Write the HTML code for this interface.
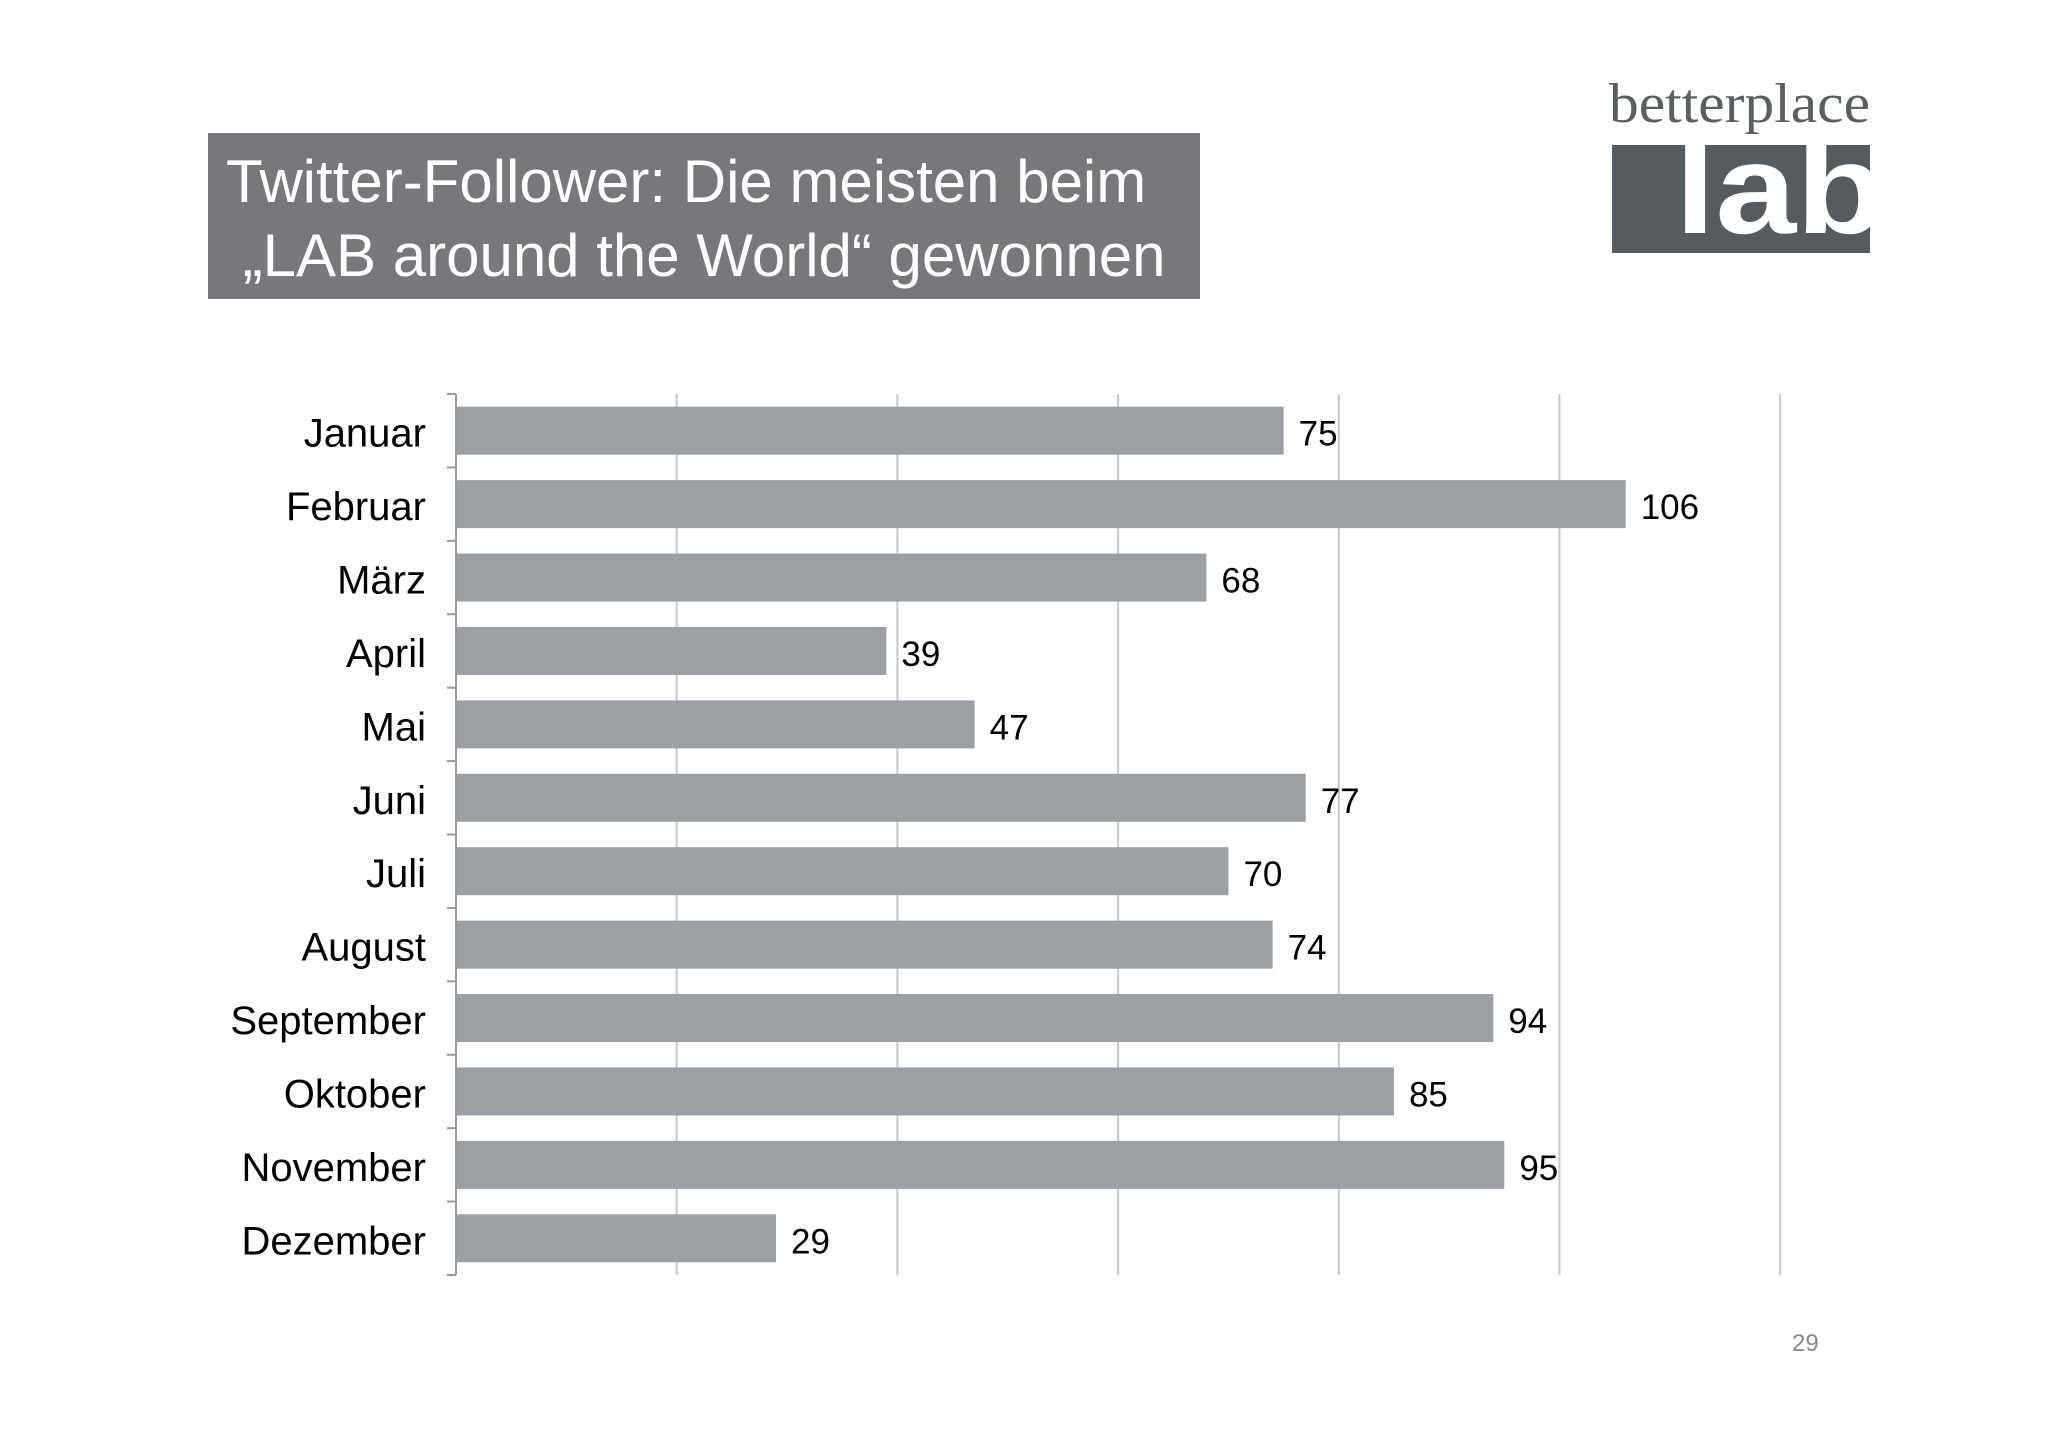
<!DOCTYPE html>
<html><head><meta charset="utf-8"><style>
html,body{margin:0;padding:0;background:#fff;}
body{width:2048px;height:1447px;position:relative;overflow:hidden;font-family:"Liberation Sans",Arial,sans-serif;}
</style></head><body>
<div style="position:absolute;left:208px;top:133px;width:992px;height:166px;background:#76787b;"></div>
<div style="position:absolute;left:226px;top:145px;color:#fff;font-size:60px;line-height:74px;white-space:nowrap;">Twitter-Follower: Die meisten beim<br>&nbsp;„LAB around the World“ gewonnen</div>
<svg style="position:absolute;left:0;top:0" width="2048" height="1447">
<text x="1609" y="122" font-family="Liberation Serif,serif" font-size="56" textLength="261" lengthAdjust="spacingAndGlyphs" fill="#5a5f62">betterplace</text>
<defs><clipPath id="lc"><rect x="1612" y="145" width="258" height="108"/></clipPath></defs>
<rect x="1612" y="145" width="258" height="108" fill="#555b5e"/>
<text clip-path="url(#lc)" x="1675" y="233" font-family="Liberation Sans,sans-serif" font-weight="bold" font-size="128" textLength="210" lengthAdjust="spacingAndGlyphs" fill="#fff">lab</text>
</svg>
<svg id="chart" style="position:absolute;left:0;top:0" width="2048" height="1447"></svg>
<div style="position:absolute;left:1792px;top:1330px;color:#888;font-size:24px;">29</div>
<script>
const categories=["Januar","Februar","März","April","Mai","Juni","Juli","August","September","Oktober","November","Dezember"];
const values=[75,106,68,39,47,77,70,74,94,85,95,29];
const gridTicks=[0,20,40,60,80,100,120];
const svg=document.getElementById('chart');
const NS='http://www.w3.org/2000/svg';
const x0=456,pxPerUnit=220.7/20,top0=394,bottom0=1275;
const band=(bottom0-top0)/categories.length;
function xs(v){return x0+v*pxPerUnit;}
function yb(i){return top0+i*band;}
function mk(t,a){const e=document.createElementNS(NS,t);for(const k in a)e.setAttribute(k,a[k]);svg.appendChild(e);return e;}
gridTicks.forEach(t=>{
 const l=mk('line',{x1:xs(t),x2:xs(t),y1:top0,y2:bottom0,stroke:t===0?'#999':'#c8c8c8','stroke-width':2});
 
 
});
for(let i=0;i<=categories.length;i++){
 const l=mk('line',{x1:x0-9,x2:x0,y1:yb(i),y2:yb(i),stroke:'#999','stroke-width':2});
 
 
}
categories.forEach((c,i)=>{
 const cy=yb(i)+band/2;
 const r=mk('rect',{x:x0+1,y:cy-24,width:xs(values[i])-x0-1,height:48,fill:'#9ca0a5'});
 
 
 const lt=mk('text',{x:426,y:cy+16,'text-anchor':'end','font-size':40,fill:'#000','font-family':'Liberation Sans,sans-serif'});
 lt.textContent=c;
 
 
 const vt=mk('text',{x:xs(values[i])+15,y:cy+15,'font-size':35,fill:'#000','font-family':'Liberation Sans,sans-serif'});
 vt.textContent=values[i];
 
 
});
</script>
</body></html>
